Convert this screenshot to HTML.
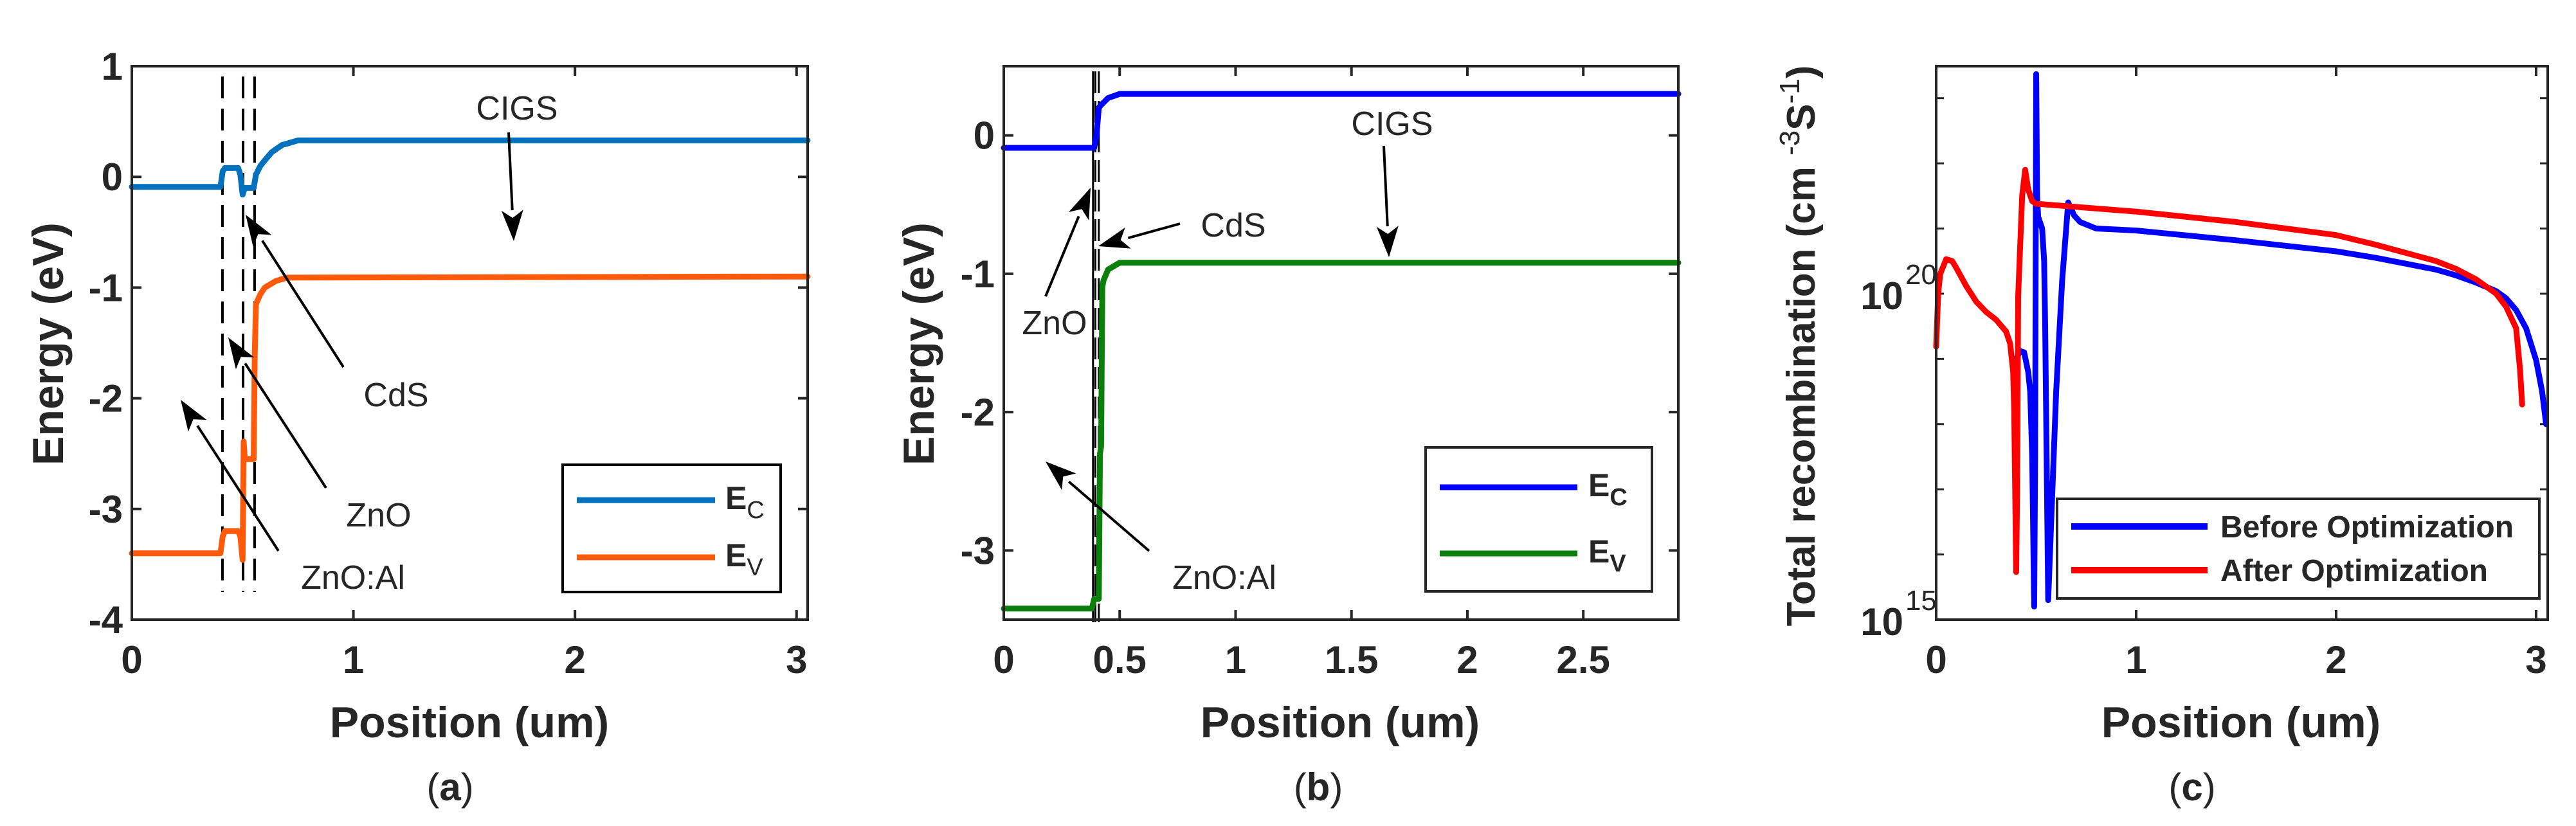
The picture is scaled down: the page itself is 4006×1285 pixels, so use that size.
<!DOCTYPE html>
<html><head><meta charset="utf-8"><style>
html,body{margin:0;padding:0;background:#fff;}
svg{display:block;}
text{font-family:"Liberation Sans",sans-serif;fill:#262626;}
</style></head>
<body>
<svg id="fig" width="4006" height="1285" viewBox="0 0 4006 1285" xmlns="http://www.w3.org/2000/svg"></svg>
<script>
// ---- Panel (a) data ----
const aEcX = [0,0.40,0.41,0.42,0.48,0.49,0.50,0.51,0.55,0.56,0.58,0.60,0.63,0.65,0.68,0.70,0.75,3.05];
const aEcY = [-0.09,-0.09,0.05,0.08,0.08,0.02,-0.16,-0.10,-0.10,0.02,0.10,0.15,0.22,0.25,0.29,0.30,0.33,0.33];
const aEvX = [0,0.40,0.41,0.42,0.48,0.49,0.50,0.502,0.505,0.51,0.55,0.555,0.56,0.58,0.60,0.65,0.70,3.05];
const aEvY = [-3.40,-3.40,-3.25,-3.20,-3.20,-3.25,-3.46,-3.0,-2.39,-2.55,-2.55,-1.60,-1.15,-1.06,-1.0,-0.94,-0.91,-0.90];
const aDash = [0.409,0.502,0.554];
const aXTicks = [0,1,2,3];
const aYTicks = [1,0,-1,-2,-3,-4];
// ---- Panel (b) data ----
const bEcX = [0,0.39,0.40,0.41,0.42,0.45,0.50,2.91];
const bEcY = [-0.09,-0.09,0.0,0.2,0.22,0.27,0.30,0.30];
const bEvX = [0,0.38,0.39,0.41,0.415,0.42,0.425,0.43,0.45,0.50,2.91];
const bEvY = [-3.42,-3.42,-3.35,-3.35,-2.3,-2.25,-1.1,-1.05,-0.97,-0.92,-0.92];
const bLines = [0.385,0.395,0.41];
const bXTicks = [0,0.5,1,1.5,2,2.5];
const bYTicks = [0,-1,-2,-3];
// ---- Panel (c) data (log10 of recombination) ----
const cBeforeX = [0.40,0.42,0.44,0.46,0.47,0.48,0.49,0.495,0.50,0.505,0.51,0.53,0.54,0.545,0.56,0.60,0.63,0.66,0.69,0.72,0.80,1.0,1.5,2.0,2.2,2.5,2.6,2.7,2.8,2.85,2.9,2.95,3.0,3.03,3.05];
const cBeforeY = [19.0,19.12,19.1,18.8,18.5,17.5,15.2,17.5,23.37,21.5,21.18,21.0,20.5,19.5,15.3,18.5,20.2,21.4,21.2,21.1,21.0,20.97,20.82,20.65,20.55,20.37,20.28,20.17,20.04,19.93,19.75,19.47,18.98,18.5,18.0];
const cAfterX = [0,0.01,0.02,0.05,0.08,0.1,0.15,0.2,0.25,0.3,0.35,0.37,0.385,0.39,0.40,0.405,0.41,0.43,0.445,0.46,0.48,0.5,1.0,1.5,2.0,2.2,2.5,2.6,2.7,2.8,2.85,2.9,2.92,2.93];
const cAfterY = [19.19,20.0,20.3,20.53,20.5,20.4,20.12,19.88,19.72,19.6,19.42,19.23,18.8,18.2,15.73,17.0,19.96,21.5,21.9,21.6,21.42,21.38,21.26,21.1,20.9,20.75,20.5,20.38,20.22,20.0,19.8,19.47,18.82,18.3];
const cXTicks = [0,1,2,3];
const cYMajor = [15,20];
const cYMinor = [15,16,17,18,19,20,21,22,23];

const NS = "http://www.w3.org/2000/svg";
const svg = document.getElementById('fig');
function mk(tag, attrs, parent){
  const e = document.createElementNS(NS, tag);
  for (const k in attrs) e.setAttribute(k, attrs[k]);
  (parent||svg).appendChild(e);
  return e;
}
function lin(d0,d1,p0,p1){ return v => p0 + (v-d0)*(p1-p0)/(d1-d0); }
function pathD(xs, ys, fx, fy){ return xs.map((x,i)=>(i?'L':'M')+fx(x).toFixed(1)+' '+fy(ys[i]).toFixed(1)).join(' '); }
function txt(x,y,s,size,opts,parent){
  const t = mk('text',{x:x,y:y,'font-size':size,'text-anchor':(opts&&opts.anchor)||'middle','font-weight':(opts&&opts.bold)?'bold':'normal'},parent);
  if (opts&&opts.fill) t.setAttribute('fill',opts.fill);
  if (opts&&opts.family) t.setAttribute('font-family',opts.family);
  t.textContent = s;
  return t;
}
function arrow(x1,y1,x2,y2,name){
  const g = mk('g',{});
  
  
  const ang = Math.atan2(y2-y1,x2-x1), L=48, W=17;
  const bx = x2 - L*Math.cos(ang), by = y2 - L*Math.sin(ang);
  mk('line',{x1:x1,y1:y1,x2:bx,y2:by,stroke:'#000','stroke-width':4},g);
  const px = -Math.sin(ang)*W, py = Math.cos(ang)*W;
  mk('polygon',{points:`${x2},${y2} ${bx+px},${by+py} ${bx+L*0.25*Math.cos(ang)},${by+L*0.25*Math.sin(ang)} ${bx-px},${by-py}`,fill:'#000'},g);
}
function frame(L,R,T,B,name){
  const r = mk('rect',{x:L,y:T,width:R-L,height:B-T,fill:'none',stroke:'#262626','stroke-width':4});
  
  
}
function series(xs,ys,fx,fy,color,name){
  const p = mk('path',{d:pathD(xs,ys,fx,fy),fill:'none',stroke:color,'stroke-width':9,'stroke-linejoin':'round','stroke-linecap':'round'});
  
  
}

// ===== Panel (a) =====
(function(){
  const L=205,R=1256,T=103,B=964;
  const fx = lin(0,3.05,L,R), fy = lin(1,-4,T,B);
  aXTicks.forEach(v=>{ const x=fx(v);
    mk('line',{x1:x,y1:B,x2:x,y2:B-15,stroke:'#262626','stroke-width':4});
    mk('line',{x1:x,y1:T,x2:x,y2:T+15,stroke:'#262626','stroke-width':4});
    const t=txt(x,1047,String(v),60,{bold:true});   });
  aYTicks.forEach(v=>{ const y=fy(v);
    mk('line',{x1:L,y1:y,x2:L+15,y2:y,stroke:'#262626','stroke-width':4});
    mk('line',{x1:R,y1:y,x2:R-15,y2:y,stroke:'#262626','stroke-width':4});
    const t=txt(L-14,y+21,String(v),60,{bold:true,anchor:'end'});   });
  aDash.forEach(v=>{ const l=mk('line',{x1:fx(v),y1:119,x2:fx(v),y2:921,stroke:'#000','stroke-width':4,'stroke-dasharray':'34 16'});
      });
  series(aEcX,aEcY,fx,fy,'#0072BD','ec-line-a');
  series(aEvX,aEvY,fx,fy,'#FF5A0A','ev-line-a');
  frame(L,R,T,B,'axes-a');
  arrow(791,206,799,375,'cigs-arrow-a'); txt(804,186,'CIGS',52);
  arrow(534,571,382,334,'cds-arrow-a'); txt(616,632,'CdS',52);
  arrow(507,759,355,525,'zno-arrow-a'); txt(589,819,'ZnO',52);
  arrow(433,857,281,622,'znoal-arrow-a'); txt(549,916,'ZnO:Al',52);
  const lg = mk('rect',{x:875,y:723,width:339,height:198,fill:'#fff',stroke:'#000','stroke-width':4});
   
  mk('line',{x1:897,y1:778,x2:1112,y2:778,stroke:'#0072BD','stroke-width':9});
  mk('line',{x1:897,y1:867,x2:1112,y2:867,stroke:'#FF5A0A','stroke-width':9});
  const e1=txt(1128,792,'E',50,{bold:true,anchor:'start',fill:'#000'}); const s1=mk('tspan',{'font-size':38,dy:14,'font-weight':'normal'},e1); s1.textContent='C';
  
  const e2=txt(1128,881,'E',50,{bold:true,anchor:'start',fill:'#000'}); const s2=mk('tspan',{'font-size':38,dy:14,'font-weight':'normal'},e2); s2.textContent='V';
  
  const yl=txt(0,0,'Energy (eV)',68,{bold:true}); yl.setAttribute('transform','translate(98,535) rotate(-90)'); 
  txt(730,1147,'Position (um)',68,{bold:true});
  const c=txt(700,1245,'(',60,{family:'Liberation Serif'}); const ca=mk('tspan',{'font-weight':'bold'},c); ca.textContent='a'; const cb=mk('tspan',{},c); cb.textContent=')';
  
})();

// ===== Panel (b) =====
(function(){
  const L=1561,R=2610,T=103,B=964;
  const fx = lin(0,2.91,L,R), fy = lin(0.5,-3.5,T,B);
  bXTicks.forEach(v=>{ const x=fx(v);
    mk('line',{x1:x,y1:B,x2:x,y2:B-15,stroke:'#262626','stroke-width':4});
    mk('line',{x1:x,y1:T,x2:x,y2:T+15,stroke:'#262626','stroke-width':4});
    const t=txt(x,1047,String(v),60,{bold:true});   });
  bYTicks.forEach(v=>{ const y=fy(v);
    mk('line',{x1:L,y1:y,x2:L+15,y2:y,stroke:'#262626','stroke-width':4});
    mk('line',{x1:R,y1:y,x2:R-15,y2:y,stroke:'#262626','stroke-width':4});
    const t=txt(L-14,y+21,String(v),60,{bold:true,anchor:'end'});   });
  bLines.forEach((v,i)=>{ const l=mk('line',{x1:fx(v),y1:111,x2:fx(v),y2:968,stroke:'#000','stroke-width':3});
    if(i>0) l.setAttribute('stroke-dasharray','34 12');
      });
  series(bEcX,bEcY,fx,fy,'#0000FF','ec-line-b');
  series(bEvX,bEvY,fx,fy,'#0B7F0B','ev-line-b');
  frame(L,R,T,B,'axes-b');
  arrow(2152,227,2160,400,'cigs-arrow-b'); txt(2165,210,'CIGS',52);
  arrow(1835,348,1708,383,'cds-arrow-b'); txt(1918,368,'CdS',52);
  arrow(1626,461,1696,292,'zno-arrow-b'); txt(1640,520,'ZnO',52);
  arrow(1787,857,1626,718,'znoal-arrow-b'); txt(1904,916,'ZnO:Al',52);
  const lg = mk('rect',{x:2217,y:696,width:352,height:224,fill:'#fff',stroke:'#262626','stroke-width':4});
   
  mk('line',{x1:2239,y1:758,x2:2453,y2:758,stroke:'#0000FF','stroke-width':9});
  mk('line',{x1:2239,y1:861,x2:2453,y2:861,stroke:'#0B7F0B','stroke-width':9});
  const e1=txt(2470,772,'E',50,{bold:true,anchor:'start'}); const s1=mk('tspan',{'font-size':38,dy:14},e1); s1.textContent='C';
  
  const e2=txt(2470,875,'E',50,{bold:true,anchor:'start'}); const s2=mk('tspan',{'font-size':38,dy:14},e2); s2.textContent='V';
  
  const yl=txt(0,0,'Energy (eV)',68,{bold:true}); yl.setAttribute('transform','translate(1452,535) rotate(-90)'); 
  txt(2084,1147,'Position (um)',68,{bold:true});
  const c=txt(2050,1245,'(',60,{family:'Liberation Serif'}); const ca=mk('tspan',{'font-weight':'bold'},c); ca.textContent='b'; const cb=mk('tspan',{},c); cb.textContent=')';
  
})();

// ===== Panel (c) =====
(function(){
  const L=3011,R=3962,T=103,B=964;
  const fx = lin(0,3.058,L,R), fy = lin(15,23.49,B,T);
  cXTicks.forEach(v=>{ const x=fx(v);
    mk('line',{x1:x,y1:B,x2:x,y2:B-15,stroke:'#262626','stroke-width':4});
    mk('line',{x1:x,y1:T,x2:x,y2:T+15,stroke:'#262626','stroke-width':4});
    const t=txt(x,1047,String(v),60,{bold:true});   });
  cYMinor.forEach(v=>{ const y=fy(v);
    mk('line',{x1:L,y1:y,x2:L+12,y2:y,stroke:'#262626','stroke-width':3});
    mk('line',{x1:R,y1:y,x2:R-12,y2:y,stroke:'#262626','stroke-width':3}); });
  cYMajor.forEach(v=>{ const y=fy(v);
    const t=txt(2960,y+24,'10',60,{bold:true,anchor:'end'});  
    const s=txt(2963,y-15,String(v),44,{anchor:'start'});  });
  series(cBeforeX,cBeforeY,fx,fy,'#0000FF','before-optimization-line');
  series(cAfterX,cAfterY,fx,fy,'#FF0000','after-optimization-line');
  frame(L,R,T,B,'axes-c');
  const lg = mk('rect',{x:3199,y:776,width:750,height:155,fill:'#fff',stroke:'#262626','stroke-width':4});
   
  mk('line',{x1:3221,y1:819,x2:3433,y2:819,stroke:'#0000FF','stroke-width':10});
  mk('line',{x1:3221,y1:887,x2:3433,y2:887,stroke:'#FF0000','stroke-width':10});
  txt(3453,836,'Before Optimization',48,{bold:true,anchor:'start',fill:'#000'});
  txt(3453,904,'After Optimization',48,{bold:true,anchor:'start',fill:'#000'});
  const yl=txt(0,0,'Total recombination (cm ',62,{bold:true});
  const t1=mk('tspan',{'font-size':44,dy:-24,'font-weight':'normal'},yl); t1.textContent='-3';
  const t2=mk('tspan',{dy:24},yl); t2.textContent='S';
  const t3=mk('tspan',{'font-size':44,dy:-24,'font-weight':'normal'},yl); t3.textContent='-1';
  const t4=mk('tspan',{dy:24},yl); t4.textContent=')';
  yl.setAttribute('transform','translate(2822,538) rotate(-90)');
  
  txt(3485,1147,'Position (um)',68,{bold:true});
  const c=txt(3409,1245,'(',60,{family:'Liberation Serif'}); const ca=mk('tspan',{'font-weight':'bold'},c); ca.textContent='c'; const cb=mk('tspan',{},c); cb.textContent=')';
  
})();
</script>
</body></html>
